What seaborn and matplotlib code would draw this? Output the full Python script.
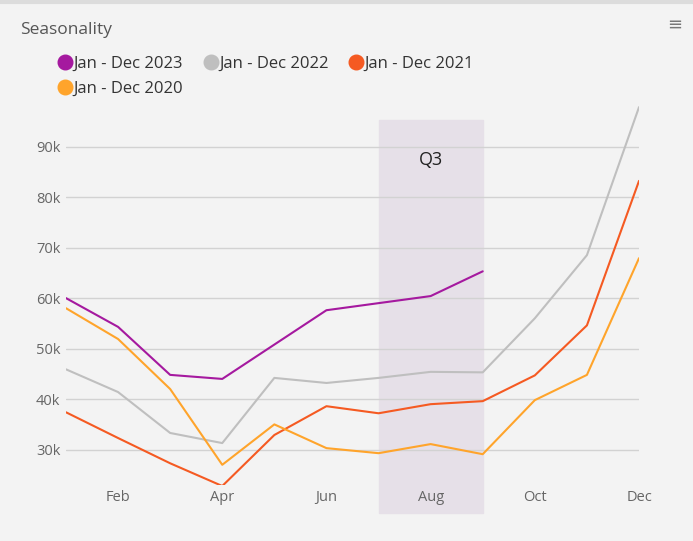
import numpy as np
import pandas as pd
import matplotlib.pyplot as plt
import seaborn as sns
from matplotlib.lines import Line2D

# Monthly values
months = ["Jan", "Feb", "Mar", "Apr", "May", "Jun", "Jul", "Aug", "Sep", "Oct", "Nov", "Dec"]
vals_2023 = [60000, 54300, 44800, 44000, 50800, 57600, 59000, 60400, 65300]
vals_2022 = [45900, 41400, 33300, 31300, 44200, 43200, 44200, 45400, 45300, 56000, 68500, 97800]
vals_2021 = [37400, 32300, 27300, 22800, 32900, 38600, 37200, 39000, 39600, 44700, 54600, 83200]
vals_2020 = [58000, 51900, 42000, 27000, 35000, 30300, 29300, 31100, 29100, 39800, 44800, 67900]

series_names = ["Jan - Dec 2023", "Jan - Dec 2022", "Jan - Dec 2021", "Jan - Dec 2020"]
series_vals = [vals_2023, vals_2022, vals_2021, vals_2020]
colors = ["#a5199f", "#bfbfbf", "#f55a22", "#ffa42b"]

y_ticks = [30000, 40000, 50000, 60000, 70000, 80000, 90000]
x_tick_months = ["Feb", "Apr", "Jun", "Aug", "Oct", "Dec"]

rows = []
for name, vals in zip(series_names, series_vals):
    for i, v in enumerate(vals):
        rows.append({"month": i, "value": v, "series": name})
df = pd.DataFrame(rows)

sns.set_theme(style="white")
plt.rcParams['font.family'] = ['Open Sans', 'DejaVu Sans']
bg = "#f3f3f3"

fig = plt.figure(figsize=(6.93, 5.41), dpi=100, facecolor=bg)
ax = fig.add_axes([0.0952, 0.1035, 0.8269, 0.719])
ax.set_facecolor(bg)

# Q3 plot band (Jul - Sep)
ax.axvspan(months.index("Jul"), months.index("Sep"), ymin=-0.072, ymax=0.938,
           color="#e6e0e8", zorder=0, clip_on=False)
ax.text((months.index("Jul") + months.index("Sep")) / 2, 87300, "Q3",
        ha="center", va="center", fontsize=13, color="#222222")

sns.lineplot(data=df, x="month", y="value", hue="series", hue_order=series_names,
             palette=colors, linewidth=1.5, legend=False, ax=ax, zorder=3)

ax.set_xlim(0, len(months) - 1)
ax.set_ylim(23000, 100000)
ax.set_yticks(y_ticks)
ax.set_yticklabels([f"{int(t / 1000)}k" for t in y_ticks])
ax.set_xticks([months.index(m) for m in x_tick_months])
ax.set_xticklabels(x_tick_months)
ax.yaxis.grid(True, color="#d2d2d2", linewidth=1)
ax.xaxis.grid(False)
ax.set_axisbelow(True)
for s in ax.spines.values():
    s.set_visible(False)
ax.tick_params(axis="both", length=0, labelsize=10.5, colors="#666666")
ax.tick_params(axis="y", pad=4)
ax.tick_params(axis="x", pad=3.5)
ax.set_xlabel("")
ax.set_ylabel("")

# legend, reordered so entries fill row by row
handles = [Line2D([], [], marker="o", linestyle="none", markersize=10.5,
                  markerfacecolor=c, markeredgecolor=c) for c in colors]
order = [0, 3, 1, 2]
fig.legend([handles[i] for i in order], [series_names[i] for i in order],
           loc="upper left", bbox_to_anchor=(0.075, 0.909), ncol=3, frameon=False,
           fontsize=12, labelcolor="#333333", handlelength=0.8, handletextpad=0.1,
           columnspacing=1.25, labelspacing=0.55, borderaxespad=0)

fig.text(20 / 693, 1 - 30 / 541, "Seasonality", fontsize=12.5, color="#555555",
         ha="left", va="center")
fig.text(675 / 693, 1 - 25 / 541, "≡", fontsize=13, color="#777777",
         ha="center", va="center")
fig.add_artist(Line2D([0, 1], [0.997, 0.997], transform=fig.transFigure,
                      color="#dcdcdc", linewidth=3))

fig.savefig("out.png", dpi=100, facecolor=bg)
